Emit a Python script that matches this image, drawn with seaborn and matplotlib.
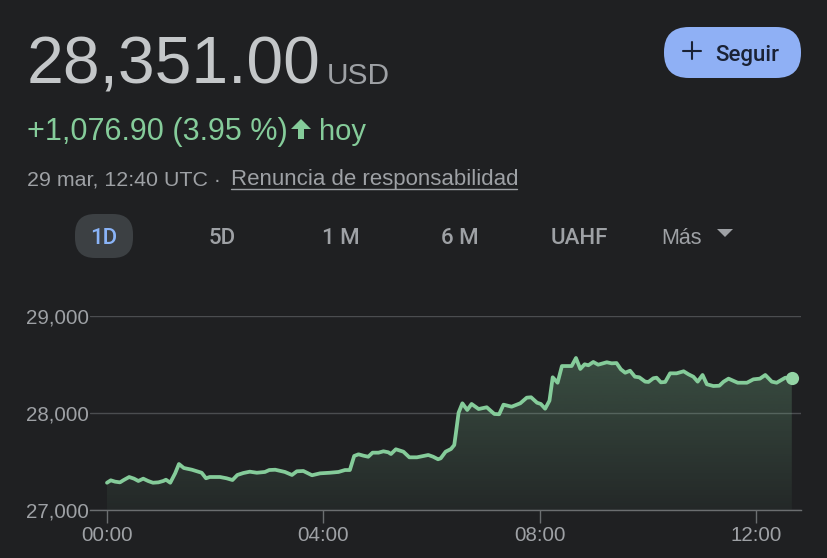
import numpy as np
import pandas as pd
import matplotlib
matplotlib.use("Agg")
import matplotlib.pyplot as plt
from matplotlib.patches import FancyBboxPatch, Polygon
import seaborn as sns

# hours since midnight UTC
hours = [0, .07, .15, .24, .31, .41, .50, .58, .67, .76, .85, .95, 1.04, 1.09, 1.17, 1.26, 1.33, 1.42, 1.57, 1.75,
         1.83, 1.90, 2.09, 2.21, 2.32, 2.41, 2.52, 2.64, 2.77, 2.92, 3.00, 3.11, 3.29, 3.42, 3.51, 3.63, 3.79, 3.94,
         4.12, 4.28, 4.40, 4.49, 4.57, 4.65, 4.74, 4.83, 4.91, 5.02, 5.11, 5.20, 5.25, 5.34, 5.48, 5.59, 5.73, 5.94,
         6.03, 6.12, 6.17, 6.26, 6.36, 6.42, 6.45, 6.50, 6.57, 6.66, 6.74, 6.87, 7.02, 7.16, 7.25, 7.33, 7.48, 7.64,
         7.76, 7.84, 7.95, 8.02, 8.10, 8.18, 8.24, 8.33, 8.41, 8.59, 8.67, 8.75, 8.83, 8.90, 8.99, 9.08, 9.24, 9.33,
         9.42, 9.50, 9.58, 9.67, 9.76, 9.84, 9.95, 10.01, 10.10, 10.16, 10.24, 10.32, 10.41, 10.53, 10.66, 10.75,
         10.84, 10.92, 11.01, 11.09, 11.21, 11.32, 11.40, 11.49, 11.66, 11.83, 11.95, 12.07, 12.17, 12.29, 12.38,
         12.54, 12.66]
prices = [27278, 27303, 27289, 27282, 27306, 27337, 27320, 27296, 27320, 27296, 27278, 27282, 27296, 27309, 27278,
          27375, 27471, 27430, 27412, 27381, 27324, 27337, 27337, 27324, 27306, 27358, 27378, 27392, 27381, 27389,
          27409, 27412, 27389, 27358, 27396, 27399, 27355, 27375, 27381, 27389, 27409, 27409, 27554, 27571, 27557,
          27546, 27588, 27588, 27602, 27592, 27574, 27623, 27598, 27540, 27540, 27564, 27546, 27520, 27530, 27598,
          27626, 27667, 27788, 28000, 28097, 28028, 28090, 28038, 28056, 27987, 27984, 28083, 28062, 28097, 28155,
          28159, 28103, 28090, 28041, 28124, 28365, 28309, 28481, 28481, 28564, 28451, 28499, 28489, 28523, 28495,
          28520, 28509, 28512, 28447, 28412, 28433, 28371, 28365, 28320, 28317, 28355, 28361, 28313, 28317, 28406,
          28406, 28427, 28396, 28371, 28320, 28389, 28293, 28275, 28278, 28320, 28351, 28309, 28309, 28344, 28351,
          28389, 28320, 28309, 28361, 28355]
y_ticks = [27000, 28000, 29000]
x_ticks = [0, 4, 8, 12]
x_labels = ["00:00", "04:00", "08:00", "12:00"]
tabs = ["5D", "1 M", "6 M", "UAHF"]

BG = "#1f2022"
GREEN = "#85cc9a"
GREY = "#9ea1a5"
W, H = 828, 558

sns.set_theme(style="dark", rc={"figure.facecolor": BG, "axes.facecolor": BG, "savefig.facecolor": BG})
plt.rcParams["font.family"] = ["Liberation Sans", "DejaVu Sans"]

fig = plt.figure(figsize=(W / 100, H / 100), dpi=100)

# header drawn in pixel coordinates
top = fig.add_axes([0, 0, 1, 1])
top.set_xlim(0, W)
top.set_ylim(H, 0)
top.axis("off")

top.text(27, 84, "28,351.00", color="#c4c7c9", fontsize=47.5, va="baseline")
top.text(327, 84, "USD", color=GREY, fontsize=21.5, va="baseline")
top.text(27, 140, "+1,076.90 (3.95 %)", color=GREEN, fontsize=22, va="baseline")
top.add_patch(Polygon([[301, 119], [311, 129], [304, 129], [304, 139], [298, 139], [298, 129], [291, 129]], color=GREEN, lw=0))
top.text(319, 140, "hoy", color=GREEN, fontsize=21, va="baseline")
top.text(27, 185, "29 mar, 12:40 UTC ·", color=GREY, fontsize=15.4, va="baseline")
top.text(231, 185, "Renuncia de responsabilidad", color=GREY, fontsize=16, va="baseline")
top.plot([231, 517], [189, 189], color=GREY, lw=1)

top.add_patch(FancyBboxPatch((664 + 25, 27 + 25), 137 - 50, 1, boxstyle="round,pad=25,rounding_size=25", color="#8fb0f5", lw=0))
top.plot([692, 692], [42, 59], color="#1a2235", lw=1.5)
top.plot([683, 701], [51, 51], color="#1a2235", lw=1.5)
top.text(715, 56, "Seguir", color="#1a2235", fontsize=16, va="center", family="Roboto", weight="medium")

top.add_patch(FancyBboxPatch((75 + 20, 214 + 20), 58 - 40, 4, boxstyle="round,pad=20,rounding_size=20", color="#3c4043", lw=0))
top.text(104, 238, "1D", color="#8ab4f8", fontsize=16, family="Roboto", weight="medium", ha="center", va="center")
for tab, cx in zip(tabs, [222, 341, 460, 579]):
    top.text(cx, 238, tab, color=GREY, fontsize=16, family="Roboto", weight="medium", ha="center", va="center")
top.text(661, 238, "Más", color=GREY, fontsize=15.5, va="center")
top.add_patch(Polygon([[717, 229], [733, 229], [725, 237]], color=GREY, lw=0))

# chart
ax = fig.add_axes([90 / W, 1 - 509.7 / H, 711 / W, 194 / H])
ax.patch.set_alpha(0)

df = pd.DataFrame({"hour": hours, "price": prices})

area = ax.fill_between(df["hour"], df["price"], 27000, facecolor="none", lw=0)
shade = np.zeros((256, 1, 4))
shade[..., :3] = matplotlib.colors.to_rgb(GREEN)
shade[..., 3] = np.linspace(0.27, 0.05, 256)[:, None]
im = ax.imshow(shade, extent=[0, hours[-1], 27000, 28600], origin="upper", aspect="auto", zorder=1)
im.set_clip_path(area.get_paths()[0], transform=ax.transData)

sns.lineplot(data=df, x="hour", y="price", color=GREEN, lw=2.7, ax=ax, zorder=3, estimator=None, sort=False)
ax.plot(hours[-1], prices[-1], "o", color="#93d4a5", ms=9.5, mew=0, zorder=4, clip_on=False)

ax.set_xlim(-0.314, 12.83)
ax.set_ylim(27000, 29000)
ax.set_xlabel("")
ax.set_ylabel("")
ax.set_yticks(y_ticks)
ax.set_yticklabels([f"{v:,}" for v in y_ticks])
ax.set_xticks(x_ticks)
ax.set_xticklabels(x_labels)
ax.tick_params(axis="y", length=0, pad=1, labelsize=14.8, labelcolor=GREY)
ax.tick_params(axis="x", length=9.5, width=1, color="#6b6e70", pad=2, labelsize=14.8, labelcolor=GREY, bottom=True)
ax.grid(axis="y", color="#4b4d50", lw=1, visible=True)
ax.grid(axis="x", visible=False)
sns.despine(ax=ax, left=True, right=True, top=True)
ax.spines["bottom"].set_color("#6b6e70")
ax.spines["bottom"].set_linewidth(1)

fig.savefig("out.png", dpi=100)
